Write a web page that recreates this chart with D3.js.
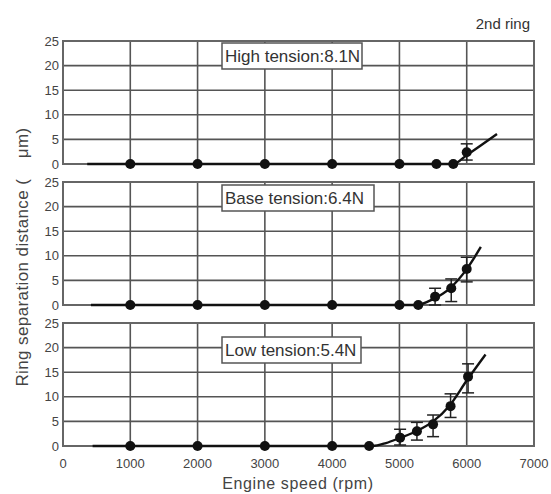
<!DOCTYPE html>
<html>
<head>
<meta charset="utf-8">
<script src="https://cdn.jsdelivr.net/npm/d3@7"></script>
<style>
  body { margin: 0; background: #fff; }
  svg { display: block; font-family: "Liberation Sans", Arial, sans-serif; }
  .grid line { stroke: #555; stroke-width: 1.6; }
  .frame { fill: none; stroke: #666; stroke-width: 2; }
  .tick-label { fill: #444; font-size: 13px; }
  .fit { fill: none; stroke: #111; stroke-width: 2.4; }
  .err { stroke: #222; stroke-width: 1.5; }
  .dot { fill: #111; }
  .tag rect { fill: #fff; stroke: #555; stroke-width: 1.5; }
  .tag text { fill: #333; font-size: 17px; }
</style>
</head>
<body>
<svg width="551" height="494"></svg>
<script>
// x / y ticks
var xTicks = [0, 1000, 2000, 3000, 4000, 5000, 6000, 7000];
var yTicks = [0, 5, 10, 15, 20, 25];

// High tension 8.1N
var highRpm = [1000, 2000, 3000, 4000, 5000, 5550, 5800, 6000];
var highVal = [0, 0, 0, 0, 0, 0, 0, 2.4];
var highErrRpm = [6000];
var highErrLo = [0.8];
var highErrHi = [4.1];
var highFitRpm = [360, 5800, 6000, 6450];
var highFitVal = [0, 0, 1.8, 6.1];

// Base tension 6.4N
var baseRpm = [1000, 2000, 3000, 4000, 5000, 5280, 5530, 5770, 6000];
var baseVal = [0, 0, 0, 0, 0, 0, 1.7, 3.4, 7.3];
var baseErrRpm = [5530, 5770, 6000];
var baseErrLo = [0, 0.7, 4.7];
var baseErrHi = [3.4, 5.3, 9.7];
var baseFitRpm = [415, 5250, 5500, 5750, 6000, 6210];
var baseFitVal = [0, 0, 1.2, 3.4, 7.3, 11.8];

// Low tension 5.4N
var lowRpm = [1000, 2000, 3000, 4000, 4550, 5010, 5260, 5500, 5760, 6020];
var lowVal = [0, 0, 0, 0, 0, 1.7, 3.0, 4.4, 8.1, 14.1];
var lowErrRpm = [5010, 5260, 5500, 5760, 6020];
var lowErrLo = [0.2, 1.2, 1.9, 5.8, 10.8];
var lowErrHi = [3.4, 4.8, 6.3, 10.6, 16.7];
var lowFitRpm = [440, 4600, 4800, 5000, 5250, 5500, 5750, 6000, 6280];
var lowFitVal = [0, 0, 0.6, 1.6, 3.0, 5.0, 8.3, 13.3, 18.6];

var tagLabels = ["High tension:8.1N", "Base tension:6.4N", "Low tension:5.4N"];

var panels = [
  {rpm: highRpm, val: highVal, eR: highErrRpm, eLo: highErrLo, eHi: highErrHi, fR: highFitRpm, fV: highFitVal, top: 41, tagY: 2, tagW: 140},
  {rpm: baseRpm, val: baseVal, eR: baseErrRpm, eLo: baseErrLo, eHi: baseErrHi, fR: baseFitRpm, fV: baseFitVal, top: 182, tagY: 3, tagW: 152},
  {rpm: lowRpm, val: lowVal, eR: lowErrRpm, eLo: lowErrLo, eHi: lowErrHi, fR: lowFitRpm, fV: lowFitVal, top: 323, tagY: 14, tagW: 139}
];

var svg = d3.select("svg");
var panelH = 123;
var x = d3.scaleLinear().domain([0, 7000]).range([63, 534]);

panels.forEach(function(p, i) {
  var y = d3.scaleLinear().domain([0, 25]).range([p.top + panelH, p.top]);
  var g = svg.append("g");

  // grid
  var grid = g.append("g").attr("class", "grid");
  grid.selectAll(".v").data(xTicks.slice(1, -1)).enter().append("line")
    .attr("x1", function(d) { return x(d); }).attr("x2", function(d) { return x(d); })
    .attr("y1", y(25)).attr("y2", y(0));
  grid.selectAll(".h").data(yTicks.slice(1, -1)).enter().append("line")
    .attr("x1", x(0)).attr("x2", x(7000))
    .attr("y1", function(d) { return y(d); }).attr("y2", function(d) { return y(d); });

  g.append("rect").attr("class", "frame")
    .attr("x", x(0)).attr("y", y(25))
    .attr("width", x(7000) - x(0)).attr("height", y(0) - y(25));

  // y tick labels
  g.selectAll(".yl").data(yTicks).enter().append("text")
    .attr("class", "tick-label")
    .attr("x", 59).attr("y", function(d) { return y(d); })
    .attr("dy", "0.36em").attr("text-anchor", "end")
    .text(function(d) { return d; });

  // label box
  var tag = g.append("g").attr("class", "tag");
  tag.append("rect").attr("x", 222).attr("y", p.top + p.tagY)
    .attr("width", p.tagW).attr("height", 26);
  tag.append("text").attr("x", 225).attr("y", p.top + p.tagY + 19)
    .text(tagLabels[i]);

  // fitted curve
  var fit = p.fR.map(function(r, k) { return [r, p.fV[k]]; });
  g.append("path").datum(fit).attr("class", "fit")
    .attr("d", d3.line()
      .x(function(d) { return x(d[0]); })
      .y(function(d) { return y(d[1]); })
      .curve(d3.curveMonotoneX));

  // error bars
  var errs = p.eR.map(function(r, k) { return {r: r, lo: p.eLo[k], hi: p.eHi[k]}; });
  var eb = g.selectAll(".eb").data(errs).enter().append("g");
  eb.append("line").attr("class", "err")
    .attr("x1", function(d) { return x(d.r); }).attr("x2", function(d) { return x(d.r); })
    .attr("y1", function(d) { return y(d.lo); }).attr("y2", function(d) { return y(d.hi); });
  ["lo", "hi"].forEach(function(k) {
    eb.append("line").attr("class", "err")
      .attr("x1", function(d) { return x(d.r) - 6; }).attr("x2", function(d) { return x(d.r) + 6; })
      .attr("y1", function(d) { return y(d[k]); }).attr("y2", function(d) { return y(d[k]); });
  });

  // markers
  var pts = p.rpm.map(function(r, k) { return [r, p.val[k]]; });
  g.selectAll(".dot").data(pts).enter().append("circle")
    .attr("class", "dot")
    .attr("cx", function(d) { return x(d[0]); })
    .attr("cy", function(d) { return y(d[1]); })
    .attr("r", 5);

  if (i === panels.length - 1) {
    g.selectAll(".xl").data(xTicks).enter().append("text")
      .attr("class", "tick-label")
      .attr("x", function(d) { return x(d); }).attr("y", y(0) + 22)
      .attr("text-anchor", "middle")
      .text(function(d) { return d; });
  }
});

svg.append("text")
  .attr("x", 298).attr("y", 489)
  .attr("text-anchor", "middle")
  .attr("fill", "#444").style("font-size", "16px").style("letter-spacing", "0.6px")
  .text("Engine speed (rpm)");

svg.append("text")
  .attr("transform", "translate(28,257) rotate(-90)")
  .attr("text-anchor", "middle")
  .attr("fill", "#444").style("font-size", "17px").style("letter-spacing", "0.4px")
  .attr("xml:space", "preserve")
  .text("Ring separation distance (    \u03bcm)");

svg.append("text")
  .attr("x", 530).attr("y", 29)
  .attr("text-anchor", "end")
  .attr("fill", "#333").style("font-size", "15px")
  .text("2nd ring");
</script>
</body>
</html>
